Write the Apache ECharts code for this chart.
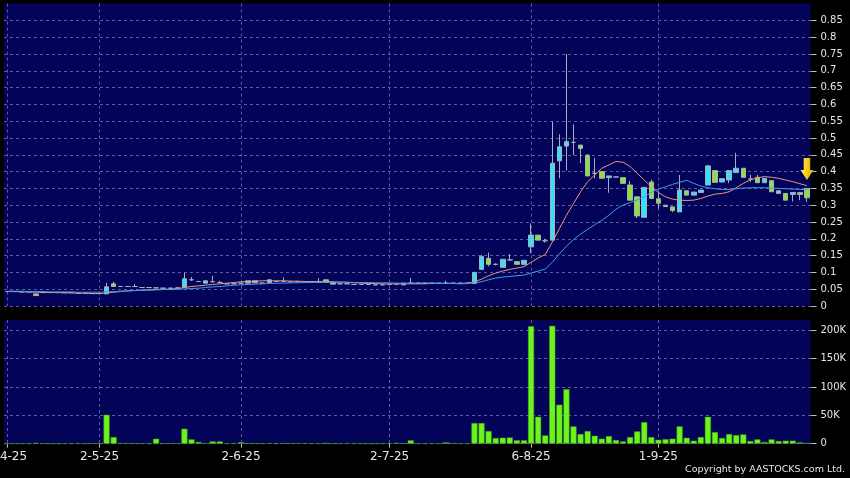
<!DOCTYPE html>
<html>
<head>
<meta charset="utf-8">
<script src="https://cdn.jsdelivr.net/npm/echarts@6/dist/echarts.min.js"></script>
<style>
html,body{margin:0;padding:0;background:#000;}
#chart{width:850px;height:478px;}
</style>
</head>
<body>
<div id="chart"></div>
<script>
const dates = [
'2-4-25','3-4-25','7-4-25','8-4-25','9-4-25','10-4-25','11-4-25','14-4-25','15-4-25','16-4-25',
'22-4-25','24-4-25','28-4-25','2-5-25','6-5-25','7-5-25','8-5-25','9-5-25','12-5-25','13-5-25',
'14-5-25','15-5-25','16-5-25','19-5-25','20-5-25','21-5-25','22-5-25','23-5-25','26-5-25','27-5-25',
'28-5-25','29-5-25','30-5-25','2-6-25','3-6-25','4-6-25','5-6-25','6-6-25','9-6-25','10-6-25',
'11-6-25','12-6-25','13-6-25','16-6-25','17-6-25','18-6-25','19-6-25','20-6-25','23-6-25','24-6-25',
'25-6-25','26-6-25','27-6-25','30-6-25','2-7-25','3-7-25','7-7-25','8-7-25','9-7-25','11-7-25',
'14-7-25','15-7-25','16-7-25','18-7-25','21-7-25','22-7-25','24-7-25','25-7-25','28-7-25','30-7-25',
'31-7-25','1-8-25','4-8-25','5-8-25','6-8-25','7-8-25','8-8-25','11-8-25','12-8-25','13-8-25',
'14-8-25','15-8-25','18-8-25','19-8-25','20-8-25','21-8-25','22-8-25','25-8-25','26-8-25','27-8-25',
'28-8-25','29-8-25','1-9-25','2-9-25','3-9-25','4-9-25','5-9-25','8-9-25','9-9-25','10-9-25',
'11-9-25','12-9-25','15-9-25','16-9-25','17-9-25','18-9-25','19-9-25','22-9-25','23-9-25','24-9-25',
'25-9-25','26-9-25','29-9-25','30-9-25'
];
const labelDates = ['2-4-25','2-5-25','2-6-25','2-7-25','6-8-25','1-9-25'];

const opens = [
.043,.043,.042,.042,.036,.040,.040,.040,.040,.040,
.038,.038,.037,.037,.036,.066,.058,.058,.058,.055,
.055,.054,.053,.053,.054,.056,.078,.073,.068,.072,
.070,.066,.066,.068,.068,.075,.068,.070,.073,.073,
.072,.072,.071,.070,.070,.078,.065,.066,.066,.064,
.064,.064,.063,.063,.064,.065,.063,.068,.068,.068,
.068,.068,.068,.068,.068,.068,.067,.109,.142,.124,
.115,.137,.132,.124,.176,.211,.194,.196,.432,.476,
.487,.479,.449,.395,.400,.382,.384,.382,.360,.325,
.264,.369,.319,.300,.295,.280,.343,.330,.338,.360,
.403,.369,.375,.397,.410,.378,.383,.367,.373,.343,
.335,.332,.338,.350
];
const closes = [
.043,.043,.042,.042,.031,.040,.040,.040,.040,.040,
.038,.038,.037,.037,.057,.058,.058,.058,.058,.055,
.055,.054,.053,.053,.054,.081,.078,.073,.075,.072,
.070,.066,.066,.068,.075,.069,.068,.078,.073,.073,
.072,.072,.071,.070,.070,.070,.070,.066,.066,.064,
.064,.064,.063,.063,.064,.065,.068,.068,.068,.068,
.068,.068,.068,.068,.068,.068,.100,.147,.124,.124,
.139,.137,.124,.136,.211,.196,.194,.425,.474,.489,
.487,.469,.387,.395,.380,.387,.384,.365,.315,.268,
.353,.320,.306,.296,.284,.345,.330,.339,.345,.417,
.368,.379,.403,.410,.383,.378,.367,.380,.340,.335,
.315,.338,.332,.322
];
const lows = [
.043,.042,.042,.042,.031,.040,.040,.040,.040,.040,
.038,.038,.037,.037,.036,.058,.058,.058,.057,.055,
.055,.053,.053,.053,.054,.056,.075,.073,.068,.072,
.070,.066,.066,.068,.068,.069,.066,.070,.073,.073,
.072,.072,.071,.070,.070,.070,.065,.066,.066,.064,
.064,.064,.063,.063,.064,.065,.063,.068,.068,.068,
.068,.068,.068,.068,.068,.068,.067,.107,.118,.121,
.115,.135,.124,.124,.157,.196,.189,.196,.380,.403,
.449,.425,.387,.380,.380,.337,.384,.365,.315,.262,
.264,.320,.290,.296,.279,.280,.330,.330,.338,.360,
.368,.369,.366,.397,.383,.370,.367,.367,.340,.335,
.315,.311,.315,.310
];
const highs = [
.043,.043,.042,.042,.036,.040,.040,.040,.040,.040,
.038,.038,.037,.037,.069,.072,.060,.058,.065,.055,
.055,.055,.053,.053,.054,.099,.086,.073,.075,.090,
.075,.066,.066,.068,.075,.075,.070,.078,.073,.085,
.072,.072,.071,.070,.083,.078,.070,.066,.066,.064,
.064,.064,.063,.063,.064,.065,.068,.083,.068,.068,
.068,.068,.075,.068,.068,.068,.101,.152,.159,.127,
.139,.155,.132,.136,.246,.211,.200,.549,.511,.750,
.540,.479,.452,.440,.400,.387,.384,.382,.372,.325,
.353,.376,.340,.300,.295,.390,.343,.339,.345,.420,
.403,.379,.403,.456,.410,.390,.390,.380,.373,.343,
.335,.338,.338,.350
];
const volumes = [
0,300,0,0,1500,300,200,0,300,200,
500,300,500,300,51000,11700,1200,800,300,300,
200,8800,300,800,500,26400,7600,3000,800,4000,
4000,500,300,2500,500,300,300,1000,300,1000,
300,1000,1000,300,300,1500,300,300,800,300,
200,200,200,200,300,1500,600,6000,300,300,
300,300,2300,1000,300,300,36400,36400,22300,10000,
10500,11000,6000,6000,207000,47500,14700,207700,68700,96200,
30500,17000,22300,14000,8800,13500,6500,4000,11700,21700,
38000,11700,7000,8000,8800,30500,10500,5300,11700,47500,
20500,10000,17000,15200,16400,4700,7600,2900,7600,4700,
5300,5300,2300,1200
];
const maShort = [
.043,.043,.042,.042,.041,.041,.040,.040,.039,.039,
.038,.038,.037,.037,.039,.041,.043,.045,.046,.047,
.048,.049,.050,.050,.052,.055,.058,.060,.062,.064,
.066,.068,.070,.072,.073,.074,.075,.075,.075,.075,
.074,.074,.073,.073,.073,.073,.072,.071,.070,.069,
.068,.067,.067,.066,.066,.066,.066,.066,.066,.066,
.067,.067,.067,.067,.067,.068,.072,.080,.090,.098,
.104,.109,.113,.117,.130,.143,.153,.190,.230,.270,
.305,.340,.370,.390,.410,.420,.430,.428,.415,.395,
.375,.355,.338,.325,.318,.315,.314,.315,.320,.327,
.333,.335,.340,.352,.365,.375,.382,.385,.383,.380,
.375,.370,.364,.358
];
const maLong = [
.044,.044,.044,.043,.043,.043,.042,.042,.042,.042,
.041,.041,.041,.041,.042,.043,.044,.045,.046,.047,
.047,.048,.049,.049,.050,.051,.052,.053,.055,.057,
.058,.060,.062,.063,.064,.065,.066,.067,.068,.068,
.069,.069,.070,.070,.071,.071,.071,.071,.071,.070,
.070,.070,.069,.069,.069,.068,.068,.068,.068,.068,
.068,.067,.067,.067,.066,.067,.069,.072,.078,.083,
.086,.088,.090,.092,.098,.104,.110,.130,.155,.178,
.198,.214,.228,.242,.255,.270,.288,.300,.308,.315,
.325,.338,.348,.355,.362,.368,.374,.365,.357,.352,
.349,.347,.347,.349,.351,.352,.352,.352,.351,.350,
.349,.348,.347,.346
];
const priceTicks = {min: 0, max: 0.9, step: 0.05};
const volTicks = {min: 0, max: 218000, step: 50000};

const candleData = dates.map((d, i) => [opens[i], closes[i], lows[i], highs[i]]);
const isLabel = (idx) => labelDates.indexOf(dates[idx]) >= 0;
const lastIdx = dates.length - 1;

const NAVY = '#03035a';
const GRIDC = '#5d5d94';
const TXT = '#e6e6e6';
const FONT = 'DejaVu Sans';

const chart = echarts.init(document.getElementById('chart'), null, {renderer: 'canvas'});
chart.setOption({
  backgroundColor: '#000',
  animation: false,
  grid: [
    {left: 4, right: 39.5, top: 3.6, height: 302.4, show: true, backgroundColor: NAVY, borderWidth: 0,
     containLabel: false, outerBoundsMode: 'none'},
    {left: 4, right: 39.5, top: 320, height: 123.7, show: true, backgroundColor: NAVY, borderWidth: 0,
     containLabel: false, outerBoundsMode: 'none'}
  ],
  xAxis: [
    {type: 'category', gridIndex: 0, data: dates, boundaryGap: true,
     axisLine: {show: false}, axisTick: {show: false}, axisLabel: {show: false},
     splitLine: {show: true, interval: (i) => isLabel(i), alignWithLabel: true,
       lineStyle: {color: GRIDC, type: [3, 3], width: 1}}},
    {type: 'category', gridIndex: 1, data: dates, boundaryGap: true,
     axisLine: {show: false},
     axisTick: {show: true, alignWithLabel: true, interval: (i) => isLabel(i), length: 4,
       lineStyle: {color: '#bbbbbb'}},
     axisLabel: {show: true, interval: (i) => isLabel(i), color: TXT, fontFamily: FONT, fontSize: 12, margin: 7,
       hideOverlap: false},
     splitLine: {show: true, interval: (i) => isLabel(i), alignWithLabel: true,
       lineStyle: {color: GRIDC, type: [3, 3], width: 1}}}
  ],
  yAxis: [
    {type: 'value', gridIndex: 0, position: 'right', min: priceTicks.min, max: priceTicks.max, interval: priceTicks.step,
     axisLine: {show: false},
     axisTick: {show: true, length: 6, lineStyle: {color: '#bbbbbb'}},
     axisLabel: {color: TXT, fontFamily: FONT, fontSize: 10, margin: 10, showMaxLabel: false,
       formatter: (v) => String(Math.round(v * 100) / 100)},
     splitLine: {show: true, showMaxLine: false, lineStyle: {color: GRIDC, type: [3, 3], width: 1}}},
    {type: 'value', gridIndex: 1, position: 'right', min: volTicks.min, max: volTicks.max, interval: volTicks.step,
     axisLine: {show: false},
     axisTick: {show: true, length: 6, lineStyle: {color: '#bbbbbb'}},
     axisLabel: {color: TXT, fontFamily: FONT, fontSize: 10, margin: 10, showMaxLabel: false,
       formatter: (v) => v === 0 ? '0' : (v / 1000) + 'K'},
     splitLine: {show: true, showMaxLine: false, lineStyle: {color: GRIDC, type: [3, 3], width: 1}}}
  ],
  series: [
    {type: 'candlestick', xAxisIndex: 0, yAxisIndex: 0, data: candleData, barWidth: 5,
     itemStyle: {color: '#35e2f4', color0: '#8be433', borderColor: '#a9aebf', borderColor0: '#a9aebf',
       borderColorDoji: '#a9aebf', borderWidth: 1},
     markPoint: {
       symbol: 'path://M3,0 L10,0 L10,12 L13.5,12 L6.5,22 L-0.5,12 L3,12 Z',
       symbolSize: [13, 22],
       label: {show: false},
       itemStyle: {color: new echarts.graphic.LinearGradient(0, 0, 1, 0, [
         {offset: 0, color: '#fff070'}, {offset: 0.5, color: '#f7cb1c'}, {offset: 1, color: '#d9a400'}])},
       data: [{coord: [lastIdx, highs[lastIdx] + 0.058]}]
     }},
    {type: 'line', xAxisIndex: 0, yAxisIndex: 0, data: maShort, symbol: 'none',
     lineStyle: {color: '#e8967a', width: 1}},
    {type: 'line', xAxisIndex: 0, yAxisIndex: 0, data: maLong, symbol: 'none',
     lineStyle: {color: '#3c9cf0', width: 1}},
    {type: 'bar', xAxisIndex: 1, yAxisIndex: 1, data: volumes, barCategoryGap: '14%',
     itemStyle: {color: '#6cf51a', borderColor: '#3f9a12', borderWidth: 0.5}}
  ],
  graphic: [
    {type: 'text', right: 5, top: 465,
     style: {text: 'Copyright by AASTOCKS.com Ltd.', fill: TXT, font: '9.5px "DejaVu Sans"'}}
  ]
});
</script>
</body>
</html>
